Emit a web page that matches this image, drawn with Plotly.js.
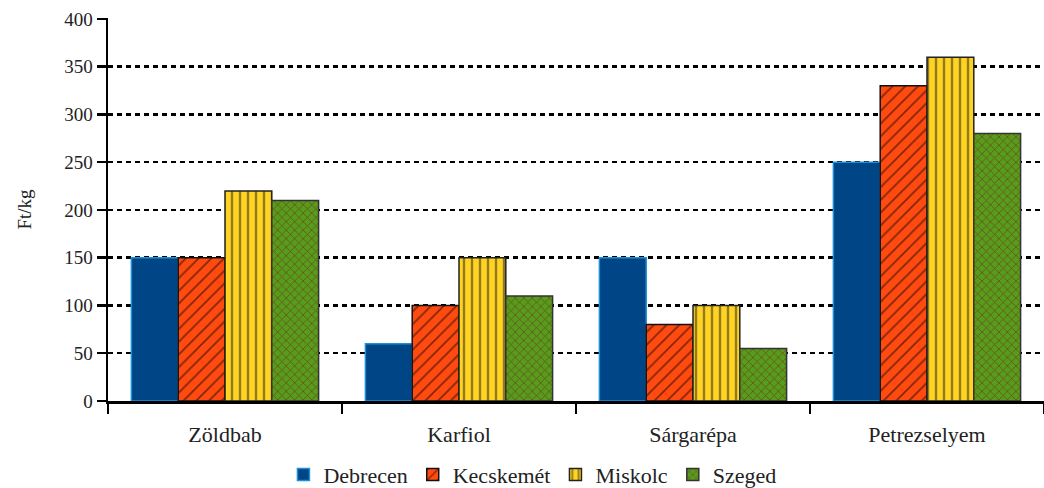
<!DOCTYPE html>
<html><head><meta charset="utf-8">
<script src="https://cdn.plot.ly/plotly-3.0.1.min.js"></script>
<style>body{margin:0;background:#fff}#chart{width:1044px;height:488px}</style>
</head><body><div id="chart"></div>
<script>
const categories = ["Zöldbab", "Karfiol", "Sárgarépa", "Petrezselyem"];
const debrecen = [150, 60, 150, 250];
const kecskemet = [150, 100, 80, 330];
const miskolc = [220, 150, 100, 360];
const szeged = [210, 110, 55, 280];
const yTicks = [0, 50, 100, 150, 200, 250, 300, 350, 400];

const font = "Liberation Serif";
const tf = {family: font, size: 19, color: "#222"};
const cf = {family: font, size: 22, color: "#222"};
const traces = [
  {type: "bar", name: "Debrecen", x: categories, y: debrecen,
   marker: {color: "#004586", line: {color: "#1F8FD6", width: 1.5}}},
  {type: "bar", name: "Kecskemét", x: categories, y: kecskemet,
   marker: {color: "#FF4A10", line: {color: "#111", width: 1.5},
            pattern: {shape: "/", fgcolor: "#000", bgcolor: "#FF4A10", size: 9, solidity: 0.18, fillmode: "overlay"}}},
  {type: "bar", name: "Miskolc", x: categories, y: miskolc,
   marker: {color: "#FFD320", line: {color: "#222", width: 1.5},
            pattern: {shape: "|", fgcolor: "#222", bgcolor: "#FFD320", size: 8, solidity: 0.3, fillmode: "overlay"}}},
  {type: "bar", name: "Szeged", x: categories, y: szeged,
   marker: {color: "#579D1C", line: {color: "#333", width: 1.5},
            pattern: {shape: "x", fgcolor: "#7E0021", bgcolor: "#579D1C", size: 6, solidity: 0.25, fillmode: "overlay"}}}
];

const layout = {
  width: 1044, height: 488,
  margin: {l: 108, r: 0, t: 18, b: 87},
  paper_bgcolor: "#fff", plot_bgcolor: "#fff",
  barmode: "group", bargap: 0.2, bargroupgap: 0,
  font: tf,
  showlegend: true,
  legend: {orientation: "h", x: 0.51, xanchor: "center", xref: "container",
           y: 0.027, yanchor: "middle", yref: "container",
           font: cf, traceorder: "normal",
           itemwidth: 30, tracegroupgap: 0},
  xaxis: {type: "category", showline: true, linecolor: "#000", linewidth: 3,
          ticks: "outside", tickson: "boundaries", ticklen: 10, tickwidth: 2.5, tickcolor: "#000",
          ticklabelstandoff: 12,
          showgrid: false, zeroline: false, tickfont: cf},
  yaxis: {range: [0, 401], tickvals: yTicks, showline: true, linecolor: "#000", linewidth: 2.5,
          ticks: "outside", ticklen: 9, tickwidth: 2.5, tickcolor: "#000",
          showgrid: true, gridcolor: "#000", gridwidth: 2.5, griddash: "5px,4px",
          zeroline: false, tickfont: tf,
          title: {text: "Ft/kg", font: tf, standoff: 28}}
};

Plotly.newPlot("chart", traces, layout, {displayModeBar: false, staticPlot: true});
</script>
</body></html>
